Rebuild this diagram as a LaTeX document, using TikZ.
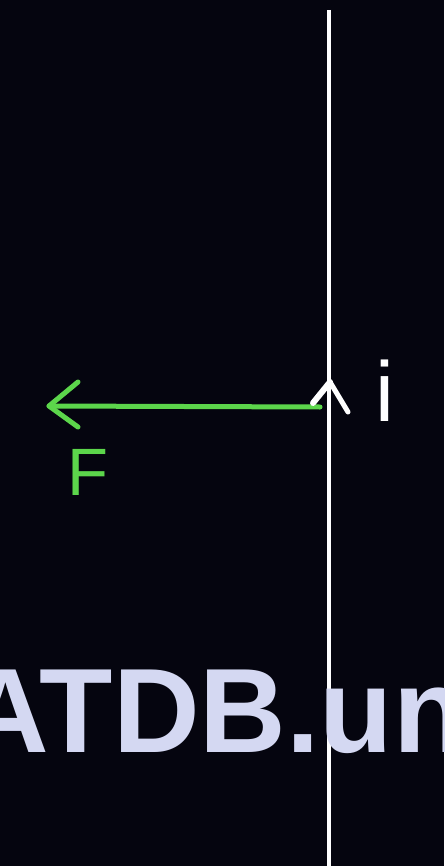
\documentclass[tikz,border=0pt]{standalone}
\usepackage{fontspec}
\setmainfont{Liberation Sans}
\definecolor{bgdark}{HTML}{05050F}
\definecolor{forcegreen}{HTML}{5CD64B}
\definecolor{wmark}{HTML}{D4D8F2}
\begin{document}
\begin{tikzpicture}[x=1pt,y=-1pt,
  wire/.style={draw=white, line width=4pt},
  force/.style={draw=forcegreen, line width=5pt, line cap=round, line join=round},
  curr/.style={draw=white, line width=5pt, line cap=round, line join=round},
  lbl/.style={inner sep=0pt, anchor=base west}]
\fill[bgdark] (0,0) rectangle (444,866);
\useasboundingbox (0,0) rectangle (444,866);
% wire
\coordinate (wtop) at (329,10);
\coordinate (wbot) at (329,870);
\draw[wire] (wtop) -- (wbot);
% force arrow
\coordinate (fstart) at (320,407);
\coordinate (ftip) at (49,406);
\coordinate (fup) at (78,382);
\coordinate (fdn) at (78,427);
\draw[force] (fstart) -- (ftip);
\draw[force] (fup) -- (ftip) -- (fdn);
\node[lbl, text=forcegreen, font=\fontsize{67}{67}\selectfont] (F) at (67,495) {F};
% current arrow
\coordinate (ctip) at (330,382);
\coordinate (cl) at (313,403);
\coordinate (cr) at (348,412);
\draw[curr, line width=6pt] (cl) -- (ctip);
\draw[curr] (ctip) -- (cr);
\node[lbl, text=white, font=\fontsize{85}{85}\selectfont] (i) at (375,421) {i};
% watermark
\node[lbl, text=wmark, font=\bfseries\fontsize{120}{120}\selectfont] (wm) at (-38,752) {ATDB.un};
\end{tikzpicture}
\end{document}
